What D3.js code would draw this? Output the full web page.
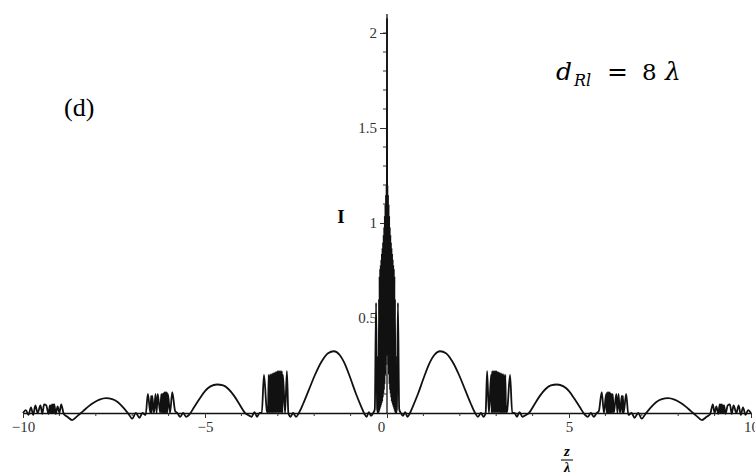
<!DOCTYPE html>
<html>
<head>
<meta charset="utf-8">
<script src="https://cdnjs.cloudflare.com/ajax/libs/d3/7.8.5/d3.min.js"></script>
<style>
body { margin: 0; background: #fff; }
</style>
</head>
<body>
<div id="chart"></div>
<script>
// intensity I against z/lambda (positive half, curve is symmetric)
var corePts = [[0,2.08],[0.005,0.4],[0.012,1.2],[0.02,0.3],[0.028,1.15],[0.036,0.25],[0.044,1.1],[0.052,0.2],
  [0.06,1.04],[0.068,0.15],[0.076,0.98],[0.084,0.12],[0.092,0.94],[0.1,0.1],[0.108,0.9],[0.116,0.08],
  [0.124,0.87],[0.132,0.06],[0.14,0.84],[0.148,0.05],[0.156,0.81],[0.164,0.04],[0.172,0.78],[0.18,0.03],
  [0.188,0.76],[0.196,0.02],[0.204,0.72],[0.212,0.01],[0.22,0.6],[0.228,0.0],[0.235,0.3],[0.245,0.0]];
var sideSpike = [[0.27,0.02],[0.30,0.58],[0.335,0.02],[0.38,0.0],[0.44,-0.015],[0.5,0.005],[0.56,-0.02],[0.62,-0.005]];
var lobe1 = [[0.7,0.03],[0.85,0.1],[1.0,0.18],[1.15,0.255],[1.3,0.305],[1.46,0.325],[1.62,0.315],[1.8,0.27],
  [1.98,0.2],[2.15,0.12],[2.3,0.05],[2.42,0.0],[2.5,-0.02],[2.58,0.0],[2.65,-0.02],[2.71,0.0]];
var burst1 = [[2.75,0.22],[2.80,0.0],[2.86,0.2],[2.875,0.0],[2.89,0.22],[2.905,0.0],[2.92,0.22],[2.935,0.0],
  [2.95,0.22],[2.965,0.0],[2.98,0.22],[2.995,0.0],[3.01,0.22],[3.025,0.0],[3.04,0.215],[3.055,0.0],
  [3.07,0.215],[3.085,0.0],[3.1,0.21],[3.115,0.0],[3.13,0.21],[3.145,0.0],[3.16,0.205],[3.175,0.0],
  [3.19,0.205],[3.205,0.0],[3.22,0.2],[3.235,0.0],[3.25,0.2],[3.27,0.0],[3.3,0.01],[3.38,0.2],[3.44,0.0],
  [3.5,0.0],[3.57,-0.02],[3.64,0.005],[3.72,-0.02],[3.82,-0.01]];
var lobe2 = [[3.9,0.0],[4.05,0.045],[4.2,0.09],[4.35,0.125],[4.5,0.145],[4.67,0.15],[4.85,0.14],[5.0,0.115],
  [5.15,0.075],[5.3,0.03],[5.44,-0.01],[5.52,-0.02],[5.6,0.0],[5.68,-0.02],[5.76,0.0]];
var burst2 = [[5.82,0.01],[5.9,0.11],[5.96,0.0],[6.02,0.1],[6.035,0.0],[6.05,0.11],[6.065,0.0],[6.08,0.11],
  [6.095,0.0],[6.11,0.11],[6.125,0.0],[6.14,0.105],[6.155,0.0],[6.17,0.1],[6.185,0.0],[6.2,0.1],[6.23,0.0],
  [6.3,0.1],[6.33,0.0],[6.36,0.1],[6.4,0.0],[6.45,0.09],[6.465,0.0],[6.48,0.09],[6.5,0.0],[6.57,0.1],
  [6.63,-0.01],[6.72,0.0],[6.8,-0.025],[6.9,0.0],[7.0,-0.03]];
var lobe3 = [[7.1,-0.005],[7.25,0.03],[7.4,0.058],[7.55,0.073],[7.72,0.078],[7.9,0.07],[8.05,0.055],
  [8.2,0.035],[8.35,0.01],[8.5,-0.015],[8.65,-0.037],[8.78,-0.02],[8.88,-0.005]];
var burst3 = [[8.95,0.045],[9.0,0.0],[9.05,0.035],[9.1,-0.005],[9.14,0.045],[9.155,0.0],[9.17,0.045],
  [9.185,0.0],[9.2,0.045],[9.215,0.0],[9.23,0.04],[9.245,0.0],[9.26,0.04],[9.3,-0.005],[9.36,0.04],
  [9.42,0.045],[9.47,-0.005],[9.52,0.04],[9.6,0.0],[9.66,0.04],[9.72,-0.01],[9.78,0.03],[9.85,-0.01],
  [9.92,0.015],[10,0.0]];

var xMajor = [-10, -5, 0, 5, 10];
var xMinor = [-9,-8,-7,-6,-4,-3,-2,-1,1,2,3,4,6,7,8,9];
var yMajor = [0.5, 1, 1.5, 2];
var yMinor = [0.1,0.2,0.3,0.4,0.6,0.7,0.8,0.9,1.1,1.2,1.3,1.4,1.6,1.7,1.8,1.9,2.0];

var width = 755, height = 476;

var svg = d3.select('#chart').append('svg')
    .attr('width', width)
    .attr('height', height);

var x = d3.scaleLinear().domain([-10, 10]).range([23, 751]);
var y = d3.scaleLinear().domain([0, 2]).range([413, 33]);

var half = [].concat(corePts, sideSpike, lobe1, burst1, lobe2, burst2, lobe3, burst3);
var left = half.slice(1).map(function(d) { return [-d[0], d[1]]; }).reverse();
var curve = left.concat(half);

var serif = '"Liberation Serif", "Times New Roman", serif';

// x axis
var xAxis = svg.append('g')
    .attr('transform', 'translate(0,' + y(0) + ')')
    .call(d3.axisBottom(x).tickValues(xMajor).tickSize(5).tickSizeOuter(0)
        .tickFormat(function(d) { return d < 0 ? '\u2212' + Math.abs(d) : d; }));
xAxis.selectAll('.tick text')
    .style('font-family', serif).style('font-size', '15px').attr('fill', '#333')
    .attr('dx', function(d) { return d === 0 ? -6 : 0; });
xAxis.append('g').selectAll('line').data(xMinor).enter().append('line')
    .attr('x1', function(d) { return x(d); }).attr('x2', function(d) { return x(d); })
    .attr('y1', 0).attr('y2', 3).attr('stroke', '#333');

// y axis
var yAxis = svg.append('g')
    .attr('transform', 'translate(' + x(0) + ',0)')
    .call(d3.axisLeft(y).tickValues(yMajor).tickSize(7).tickSizeOuter(0).tickFormat(d3.format('')));
yAxis.select('.domain').attr('d', 'M0,' + y(0) + 'V' + y(2.1));
yAxis.selectAll('.tick text')
    .style('font-family', serif).style('font-size', '15px').attr('fill', '#333');
yAxis.append('g').selectAll('line').data(yMinor).enter().append('line')
    .attr('y1', function(d) { return y(d); }).attr('y2', function(d) { return y(d); })
    .attr('x1', 0).attr('x2', -4).attr('stroke', '#333');

svg.selectAll('.domain').attr('stroke', '#111').attr('stroke-width', 1.3);
svg.selectAll('.tick line').attr('stroke', '#333');

// axis labels
svg.append('text')
    .attr('x', 341).attr('y', 223)
    .attr('text-anchor', 'middle')
    .style('font-family', serif).style('font-size', '19px').style('font-weight', 'bold')
    .text('I');

var zl = svg.append('g').attr('transform', 'translate(567,0)');
zl.append('text').attr('y', 456).attr('text-anchor', 'middle')
    .style('font-family', serif).style('font-size', '15px').style('font-weight', 'bold').style('font-style', 'italic')
    .text('z');
zl.append('line').attr('x1', -6).attr('x2', 6).attr('y1', 460).attr('y2', 460)
    .attr('stroke', '#222').attr('stroke-width', 1.2);
zl.append('text').attr('y', 472).attr('text-anchor', 'middle')
    .style('font-family', serif).style('font-size', '14px').style('font-weight', 'bold').style('font-style', 'italic')
    .text('\u03bb');

// the curve
var line = d3.line()
    .x(function(d) { return x(d[0]); })
    .y(function(d) { return y(d[1]); })
    .curve(d3.curveMonotoneX);

svg.append('path')
    .datum(curve)
    .attr('d', line)
    .attr('fill', 'none')
    .attr('stroke', '#111')
    .attr('stroke-width', 1.8)
    .attr('stroke-linejoin', 'round');

// panel annotations
svg.append('text')
    .attr('x', 64).attr('y', 116)
    .style('font-family', serif).style('font-size', '26px')
    .text('(d)');

var math = '"DejaVu Serif", serif';
var eq = svg.append('g').style('font-family', math).attr('fill', '#000');
eq.append('text').attr('x', 556).attr('y', 80).style('font-size', '25px').style('font-style', 'italic').text('d');
eq.append('text').attr('x', 574).attr('y', 86).style('font-size', '16px').style('font-style', 'italic').text('Rl');
eq.append('text').attr('x', 607).attr('y', 80).style('font-size', '25px').text('=');
eq.append('text').attr('x', 642).attr('y', 80).style('font-size', '23px').text('8');
eq.append('text').attr('x', 665).attr('y', 80).style('font-size', '25px').style('font-style', 'italic').text('\u03bb');
</script>
</body>
</html>
